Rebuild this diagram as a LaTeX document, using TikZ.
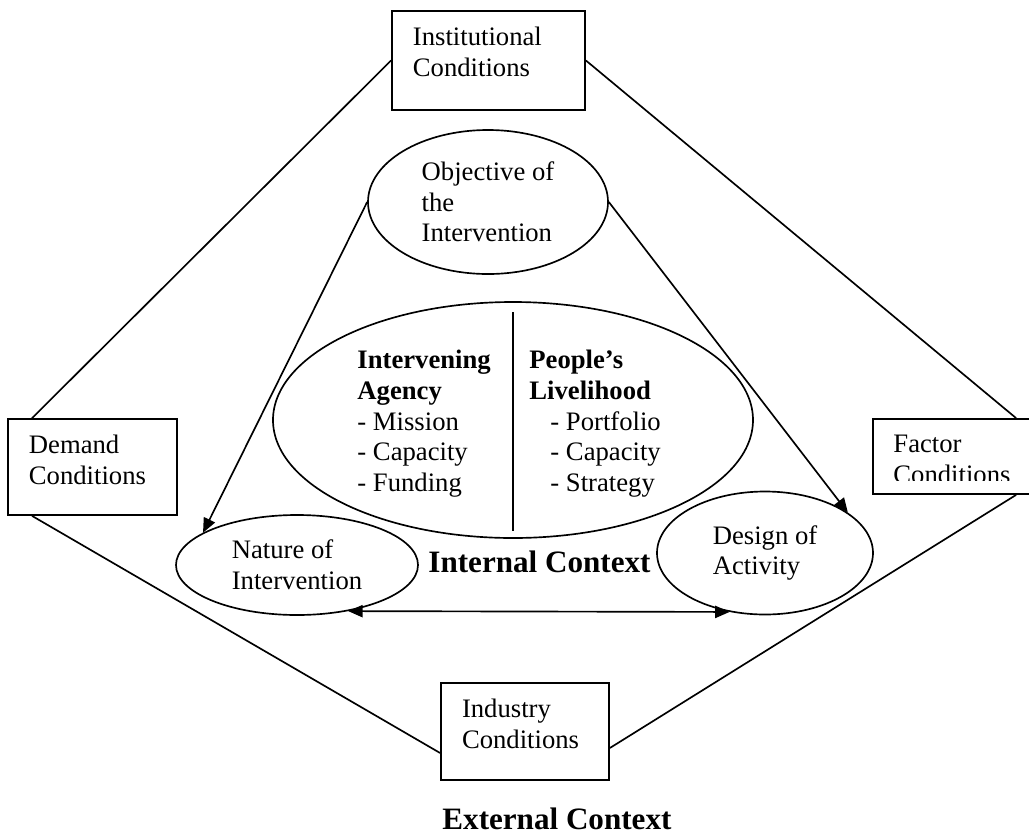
\documentclass[tikz,border=0pt]{standalone}
\usepackage{fontspec}
\setmainfont{Liberation Serif}
\usetikzlibrary{positioning,calc,shapes.geometric,arrows.meta}

\begin{document}
\begin{tikzpicture}[x=0.45pt,y=-0.45pt,>={Triangle[length=6.5pt,width=5.5pt]},
  every node/.style={font=\fontsize{12}{13.8}\selectfont},
  cond/.style={draw,line width=0.8pt,align=left,inner xsep=9.45pt,inner ysep=7.65pt,text height=8pt,text depth=#1},
  oval/.style={draw,line width=0.75pt,ellipse,inner sep=0pt,align=left},
  link/.style={line width=0.75pt},
  heading/.style={font=\fontsize{14}{16}\selectfont\bfseries,inner sep=0pt}]
  \clip (0,0) rectangle (1029,833);
  % external conditions
  \node[cond=21.25pt,text width=68pt] (inst) at (488.5,60.5) {Institutional\\Conditions};
  \node[cond=19.9pt,text width=57.2pt] (demand) at (92.5,467) {Demand\\Conditions};
  \node[cond=20.35pt,text width=56.7pt] (industry) at (525,731.5) {Industry\\Conditions};
  \node[draw,line width=0.8pt,minimum width=77.4pt,minimum height=33.75pt] (factor) at (959,456.5) {};
  \begin{scope}
    \clip (873,419) rectangle (1029,480.5);
    \node[anchor=north west,align=left,inner sep=0pt] (factorlbl) at (893,435) {Factor\\Conditions};
  \end{scope}
  % internal context
  \node[oval,minimum width=108pt,minimum height=64.8pt] (obj) at (488,202) {Objective of\\the\\Intervention};
  \node[oval,minimum width=216pt,minimum height=106.2pt] (inner) at (513,420) {};
  \node[oval,minimum width=108.9pt,minimum height=45pt] (nature) at (297,565) {Nature of\\Intervention};
  \node[oval,minimum width=97.2pt,minimum height=55.35pt] (design) at (765,553) {Design of\\Activity};
  \node[anchor=north west,align=left,inner sep=0pt] (agency) at (357,350)
    {\textbf{Intervening}\\\textbf{Agency}\\- Mission\\- Capacity\\- Funding};
  \node[anchor=north west,align=left,inner sep=0pt] (livelihood) at (529,350)
    {\textbf{People's}\\\textbf{Livelihood}\\\hspace*{9.45pt}- Portfolio\\\hspace*{9.45pt}- Capacity\\\hspace*{9.45pt}- Strategy};
  \draw[link] ($(inner.north)+(0,11)$) -- ($(inner.south)+(0,-8)$);
  \node[heading,anchor=base] (internal) at (539.5,572) {Internal Context};
  \node[heading,anchor=base west] (external) at (442,829) {External Context};
  % connectors
  \draw[link] (inst.west) -- ($(demand.north west)+(25,0)$);
  \draw[link] (inst.east) -- ($(factor.north west)+(144,0)$);
  \draw[link] ($(demand.south west)+(25,0)$) -- ($(industry.west)+(0,21.5)$);
  \draw[link] ($(industry.east)+(0,16.5)$) -- ($(factor.south west)+(144,0)$);
  \draw[link,->] (obj.west) -- (nature.161);
  \draw[link,->] (obj.east) -- (design.26);
  \draw[link,<->] (nature.318) -- (design.239);
\end{tikzpicture}
\end{document}
